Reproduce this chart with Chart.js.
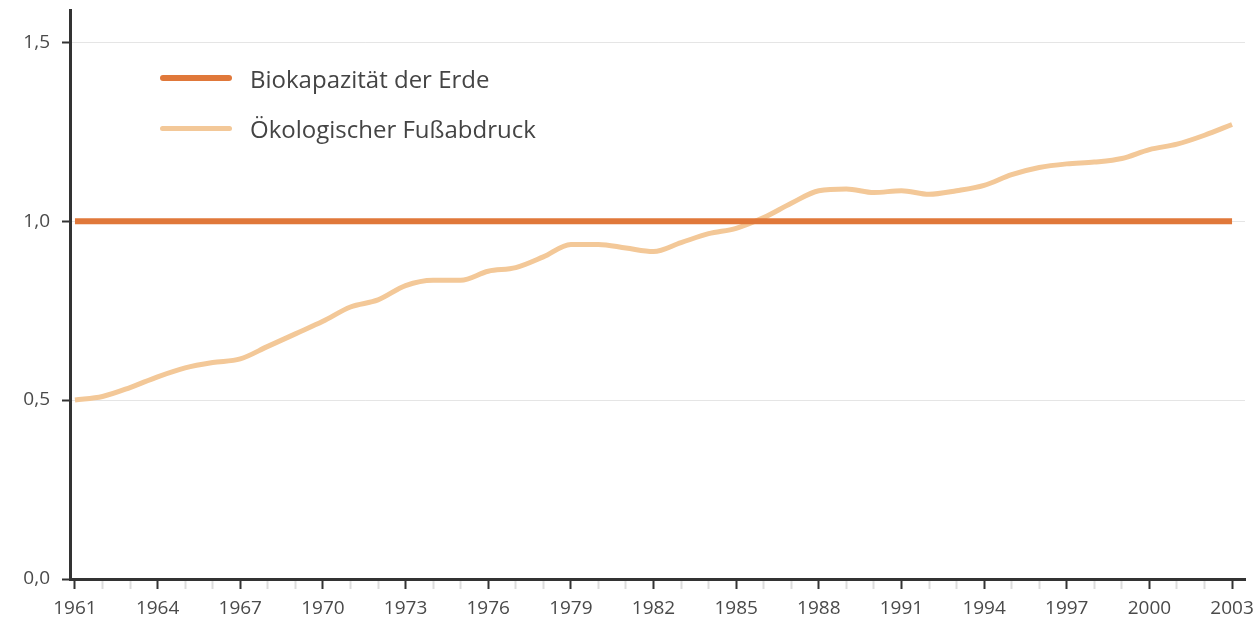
<!DOCTYPE html>
<html>
<head>
<meta charset="utf-8">
<title>Biokapazität und Ökologischer Fußabdruck</title>
<script src="https://cdn.jsdelivr.net/npm/chart.js"></script>
<style>
  html, body {
    margin: 0;
    padding: 0;
    background: #ffffff;
    font-family: 'Open Sans', 'Noto Sans', sans-serif;
  }
  .wrap {
    position: relative;
    width: 1254px;
    height: 629px;
  }
  .legend {
    position: absolute;
    left: 160px;
    top: 53px;
    color: #444;
    font-size: 24px;
  }
  .legend .item {
    display: flex;
    align-items: center;
    height: 50px;
  }
  .legend .swatch {
    width: 72px;
    margin-right: 18px;
    border-radius: 3px;
  }
</style>
</head>
<body>
<div class="wrap">
  <canvas id="chart" width="1254" height="629"></canvas>
  <div class="legend" id="legend"></div>
</div>
<script>
// years 1961..2003
const years = [
  1961, 1962, 1963, 1964, 1965, 1966, 1967, 1968, 1969, 1970,
  1971, 1972, 1973, 1974, 1975, 1976, 1977, 1978, 1979, 1980,
  1981, 1982, 1983, 1984, 1985, 1986, 1987, 1988, 1989, 1990,
  1991, 1992, 1993, 1994, 1995, 1996, 1997, 1998, 1999, 2000,
  2001, 2002, 2003
];

// Biokapazität der Erde (constant = 1 Erde)
const biocapacity = years.map(() => 1.0);

// Ökologischer Fußabdruck (Anzahl Erden)
const footprint = [
  0.50, 0.51, 0.535, 0.565, 0.59, 0.605, 0.615, 0.65, 0.685, 0.72,
  0.76, 0.78, 0.82, 0.835, 0.835, 0.86, 0.87, 0.90, 0.935, 0.935,
  0.925, 0.915, 0.94, 0.965, 0.98, 1.01, 1.05, 1.085, 1.09, 1.08,
  1.085, 1.075, 1.085, 1.10, 1.13, 1.15, 1.16, 1.165, 1.175, 1.20,
  1.215, 1.24, 1.27
];

const seriesLabels = ['Biokapazität der Erde', 'Ökologischer Fußabdruck'];
const yTicks = [0, 0.5, 1.0, 1.5];

const colors = {
  bio: '#e0783a',
  foot: '#f3c898',
  axis: '#333333',
  text: '#4a4a4a'
};

const toPoints = (vals) => vals.map((v, i) => ({ x: years[i], y: v }));

const datasets = [
  {
    label: seriesLabels[0],
    data: toPoints(biocapacity),
    borderColor: colors.bio,
    borderWidth: 6,
    pointRadius: 0,
    tension: 0
  },
  {
    label: seriesLabels[1],
    data: toPoints(footprint),
    borderColor: colors.foot,
    borderWidth: 5,
    pointRadius: 0,
    tension: 0.4,
    cubicInterpolationMode: 'monotone'
  }
];

// html legend
const legendEl = document.getElementById('legend');
datasets.forEach(ds => {
  const item = document.createElement('div');
  item.className = 'item';
  const sw = document.createElement('span');
  sw.className = 'swatch';
  sw.style.height = ds.borderWidth + 'px';
  sw.style.background = ds.borderColor;
  const txt = document.createElement('span');
  txt.textContent = ds.label;
  item.appendChild(sw);
  item.appendChild(txt);
  legendEl.appendChild(item);
});

const fontFamily = "'Open Sans', 'Noto Sans', sans-serif";

const ctx = document.getElementById('chart').getContext('2d');
const chart = new Chart(ctx, {
  type: 'line',
  data: { datasets: datasets },
  options: {
    responsive: false,
    animation: false,
    layout: {
      padding: { left: 0, top: 10, right: 9, bottom: 0 }
    },
    plugins: {
      legend: { display: false },
      tooltip: { enabled: false }
    },
    scales: {
      x: {
        type: 'linear',
        min: 1960.82,
        max: 2003.47,
        ticks: {
          stepSize: 1,
          includeBounds: false,
          autoSkip: false,
          maxRotation: 0,
          padding: 8,
          color: colors.text,
          font: { family: fontFamily, size: 19 },
          callback: (v) => (Number.isInteger(v) && (v - 1961) % 3 === 0) ? String(v) : ''
        },
        grid: {
          drawOnChartArea: false,
          drawTicks: true,
          tickLength: 10,
          tickWidth: 2,
          tickColor: (c) => {
            const v = c.tick ? c.tick.value : 0;
            return (v - 1961) % 3 === 0 ? colors.axis : '#dddddd';
          }
        },
        border: { color: colors.axis, width: 3 },
        afterFit: (scale) => {
          scale.height = 50;
          scale.paddingLeft = 0;
          scale.paddingRight = 0;
        }
      },
      y: {
        min: 0,
        max: 1.59,
        afterBuildTicks: (scale) => {
          scale.ticks = yTicks.map(v => ({ value: v }));
        },
        ticks: {
          padding: 12,
          color: colors.text,
          font: { family: fontFamily, size: 19 },
          callback: (v) => v.toFixed(1).replace('.', ',')
        },
        grid: {
          drawTicks: true,
          tickLength: 8,
          tickWidth: 2,
          tickColor: colors.axis,
          color: (c) => (c.tick && c.tick.value > 0) ? 'rgba(0,0,0,0.10)' : 'rgba(0,0,0,0)',
          lineWidth: 1
        },
        border: { color: colors.axis, width: 3, dash: [] },
        afterFit: (scale) => {
          scale.width = 70;
          scale.paddingTop = 0;
          scale.paddingBottom = 0;
        }
      }
    }
  }
});
</script>
</body>
</html>
